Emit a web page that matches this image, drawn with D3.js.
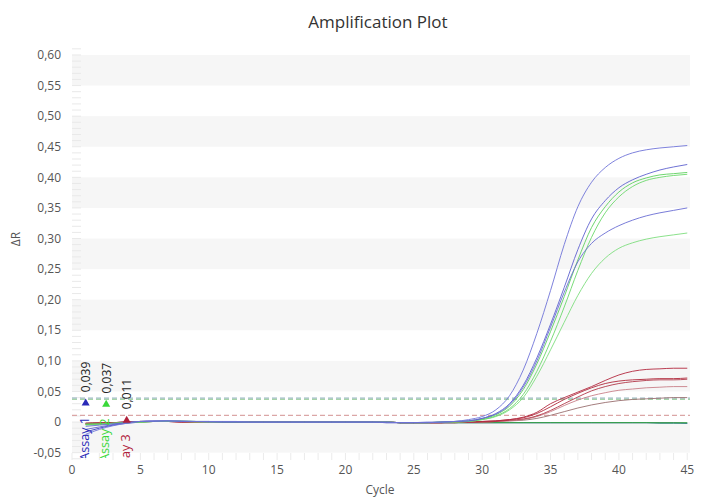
<!DOCTYPE html>
<html><head><meta charset="utf-8">
<script src="https://cdn.jsdelivr.net/npm/d3@7"></script>
<style>body{margin:0;background:#fff;} svg{display:block;font-family:"Open Sans","Noto Sans",sans-serif;}</style>
</head><body>
<svg id="c" width="703" height="499"></svg>
<script>
const cycles = [1,2,3,4,5,6,7,8,9,10,11,12,13,14,15,16,17,18,19,20,21,22,23,24,25,26,27,28,29,30,31,32,33,34,35,36,37,38,39,40,41,42,43,44,45];
const xTicks = [0,5,10,15,20,25,30,35,40,45];
const yTicks = [-0.05,0,0.05,0.10,0.15,0.20,0.25,0.30,0.35,0.40,0.45,0.50,0.55,0.60];
const yTickLabels = ["-0,05","0","0,05","0,10","0,15","0,20","0,25","0,30","0,35","0,40","0,45","0,50","0,55","0,60"];
const bandStarts = [-0.05,0.05,0.15,0.25,0.35,0.45,0.55];

const assayNames = ["Assay 1","Assay 2","Assay 3"];
const thresholds = [0.039,0.037,0.011];
const thresholdLabels = ["0,039","0,037","0,011"];
const markerCycles = [1,2.5,4];

// Assay 1 (blue)
const blue1 = [-0.020,-0.012,-0.006,-0.002,0.001,0.002,0.002,0.002,0.001,0.001,0.001,0.001,0.000,0.000,0.000,0.000,0.000,0.000,0.000,0.000,0.000,0.000,0.000,-0.001,-0.001,-0.001,0.000,0.001,0.004,0.009,0.020,0.043,0.085,0.145,0.215,0.290,0.352,0.392,0.416,0.431,0.440,0.445,0.448,0.450,0.452];
const blue2 = [-0.012,-0.008,-0.004,-0.001,0.001,0.002,0.002,0.001,0.001,0.001,0.000,0.000,0.000,0.000,0.000,0.000,0.000,0.000,0.000,0.000,0.000,0.000,-0.001,-0.001,-0.001,-0.001,0.000,0.001,0.002,0.006,0.014,0.030,0.060,0.105,0.160,0.220,0.282,0.332,0.362,0.383,0.396,0.405,0.412,0.417,0.421];
const blue3 = [-0.007,-0.005,-0.003,-0.001,0.001,0.001,0.002,0.001,0.001,0.000,0.000,0.000,0.000,0.000,0.000,0.000,0.000,0.000,0.000,0.000,0.000,0.000,0.000,-0.001,-0.001,0.000,0.000,0.001,0.002,0.006,0.013,0.028,0.057,0.100,0.155,0.212,0.262,0.292,0.309,0.321,0.330,0.337,0.342,0.346,0.350];
const blueFlat = [-0.016,-0.010,-0.005,-0.002,0.000,0.001,0.001,0.001,0.001,0.000,0.000,0.000,0.000,0.000,0.000,0.000,0.000,0.000,0.000,0.000,0.000,0.000,-0.001,-0.001,-0.001,-0.001,-0.001,-0.001,-0.001,-0.001,-0.001,-0.001,-0.001,-0.001,-0.001,-0.001,-0.001,-0.001,-0.001,-0.001,-0.001,-0.001,-0.001,-0.001,-0.002];
// Assay 2 (green)
const green1 = [-0.004,-0.003,-0.002,-0.001,0.000,0.001,0.002,0.002,0.001,0.001,0.000,0.000,0.000,0.000,0.000,0.000,0.000,0.000,0.000,0.000,0.000,0.000,0.000,-0.001,-0.001,-0.001,0.000,0.001,0.002,0.005,0.012,0.026,0.053,0.095,0.148,0.205,0.265,0.318,0.352,0.376,0.391,0.399,0.404,0.406,0.408];
const green2 = [-0.003,-0.003,-0.002,-0.001,0.000,0.001,0.001,0.001,0.001,0.000,0.000,0.000,0.000,0.000,0.000,0.000,0.000,0.000,0.000,0.000,0.000,0.000,0.000,-0.001,-0.001,-0.001,0.000,0.000,0.001,0.004,0.010,0.022,0.045,0.083,0.132,0.188,0.248,0.302,0.342,0.368,0.385,0.395,0.400,0.403,0.405];
const green3 = [-0.005,-0.004,-0.002,-0.001,0.000,0.001,0.001,0.001,0.000,0.000,0.000,0.000,0.000,0.000,0.000,0.000,0.000,0.000,0.000,0.000,0.000,0.000,0.000,-0.001,-0.001,-0.001,0.000,0.000,0.001,0.004,0.009,0.020,0.040,0.075,0.118,0.163,0.207,0.243,0.268,0.284,0.293,0.299,0.303,0.306,0.309];
const greenFlat = [-0.004,-0.003,-0.002,-0.001,0.000,0.001,0.001,0.001,0.000,0.000,0.000,0.000,0.000,0.000,0.000,0.000,0.000,0.000,0.000,0.000,0.000,0.000,0.000,-0.001,-0.001,-0.001,-0.001,-0.001,-0.001,-0.001,-0.001,-0.001,-0.001,-0.001,-0.001,-0.001,-0.001,-0.001,-0.001,-0.001,-0.001,-0.001,-0.001,-0.001,-0.001];
const tealFlat = [-0.003,-0.002,-0.001,0.000,0.001,0.001,0.001,0.001,0.000,0.000,0.000,0.000,0.000,0.000,0.000,0.000,0.000,0.000,0.000,0.000,0.000,0.000,0.000,-0.001,-0.001,-0.001,-0.001,-0.001,-0.001,-0.001,-0.001,-0.001,-0.001,-0.001,-0.001,-0.001,-0.001,-0.001,-0.001,-0.001,-0.001,-0.001,-0.002,-0.002,-0.002];
// Assay 3 (red)
const red1 = [-0.003,-0.002,-0.001,0.000,0.001,0.001,0.001,0.001,0.000,0.000,0.000,0.000,0.000,0.000,0.000,0.000,0.000,0.000,0.000,0.000,0.000,0.000,0.000,-0.001,-0.001,-0.001,-0.001,0.000,0.000,0.001,0.002,0.004,0.008,0.016,0.030,0.040,0.049,0.058,0.068,0.077,0.083,0.086,0.087,0.088,0.088];
const red2 = [-0.002,-0.002,-0.001,0.000,0.001,0.001,0.001,0.000,0.000,0.000,0.000,0.000,0.000,0.000,0.000,0.000,0.000,0.000,0.000,0.000,0.000,0.000,0.000,-0.001,-0.001,-0.001,-0.001,0.000,0.000,0.001,0.002,0.004,0.007,0.014,0.025,0.037,0.047,0.056,0.063,0.067,0.069,0.070,0.071,0.071,0.072];
const red3 = [-0.002,-0.001,-0.001,0.000,0.001,0.001,0.001,0.000,0.000,0.000,0.000,0.000,0.000,0.000,0.000,0.000,0.000,0.000,0.000,0.000,0.000,0.000,0.000,-0.001,-0.001,-0.001,-0.001,-0.001,0.000,0.000,0.001,0.003,0.005,0.010,0.019,0.030,0.041,0.051,0.058,0.063,0.066,0.068,0.069,0.069,0.070];
const red4 = [-0.003,-0.002,-0.001,0.000,0.000,0.001,0.001,0.000,0.000,0.000,0.000,0.000,0.000,0.000,0.000,0.000,0.000,0.000,0.000,0.000,0.000,0.000,0.000,-0.001,-0.001,-0.001,-0.001,-0.001,0.000,0.000,0.001,0.002,0.004,0.009,0.017,0.027,0.036,0.043,0.048,0.052,0.054,0.056,0.057,0.058,0.058];
const brown1 = [-0.002,-0.001,-0.001,0.000,0.000,0.001,0.001,0.000,0.000,0.000,0.000,0.000,0.000,0.000,0.000,0.000,0.000,0.000,0.000,0.000,0.000,0.000,0.000,-0.001,-0.001,-0.001,-0.001,-0.001,0.000,0.000,0.001,0.002,0.003,0.006,0.011,0.017,0.023,0.028,0.032,0.035,0.037,0.038,0.039,0.040,0.040];

const series = [
  {v: blueFlat, c: "#3a3fc0"},
  {v: tealFlat, c: "#2a8a7a"},
  {v: greenFlat, c: "#3aa83a"},
  {v: brown1, c: "#9a7070"},
  {v: red4, c: "#c98088"},
  {v: red3, c: "#b23a4a"},
  {v: red2, c: "#b02a3c"},
  {v: red1, c: "#b42a40"},
  {v: green3, c: "#7ede7e"},
  {v: green2, c: "#6cd86c"},
  {v: green1, c: "#5fd05f"},
  {v: blue3, c: "#6a6ed4"},
  {v: blue2, c: "#5f63cf"},
  {v: blue1, c: "#7074d8"}
];
const assayColors = ["#2a2ab8","#3ad83a","#b0203a"];
const thresholdColors = ["#9ab8c4","#a6d4a8","#dba6a6"];

const svg = d3.select("#c");
const L = 72, R = 690, T = 45.8, B = 460;
const x = d3.scaleLinear().domain([0,45.2]).range([L,R]);
const y = d3.scaleLinear().domain([-0.062,0.615]).range([B,T]);

svg.append("defs").append("clipPath").attr("id","clip")
  .append("rect").attr("x",L).attr("y",T).attr("width",R-L).attr("height",B-2-T);

// bands
svg.append("g").selectAll("rect").data(bandStarts).join("rect")
  .attr("x",L).attr("width",R-L)
  .attr("y",d=>y(d+0.05)).attr("height",d=>y(d)-y(d+0.05))
  .attr("fill","#f6f6f6");

// minor ticks
const minorY = d3.range(-0.06,0.611,0.01);
svg.append("g").selectAll("line").data(minorY).join("line")
  .attr("x1",L).attr("x2",L+9).attr("y1",d=>y(d)).attr("y2",d=>y(d))
  .attr("stroke","#e9e9e9");
svg.append("g").selectAll("line").data(d3.range(0,46,1)).join("line")
  .attr("x1",d=>x(d)).attr("x2",d=>x(d)).attr("y1",B).attr("y2",B-7)
  .attr("stroke","#ebebeb");

// axes labels
svg.append("g").selectAll("text").data(yTicks).join("text")
  .attr("x",61).attr("y",d=>y(d)).attr("dy","0.35em").attr("text-anchor","end")
  .attr("font-size",12).attr("fill","#555").text((d,i)=>yTickLabels[i]);
svg.append("g").selectAll("text").data(xTicks).join("text")
  .attr("x",d=>x(d)).attr("y",474).attr("text-anchor","middle")
  .attr("font-size",12).attr("fill","#555").text(d=>d);

svg.append("text").attr("x",378).attr("y",28).attr("text-anchor","middle")
  .attr("font-size",17).attr("fill","#333").text("Amplification Plot");
svg.append("text").attr("transform","translate(20,239) rotate(-90)").attr("text-anchor","middle")
  .attr("font-size",12).attr("fill","#555").text("ΔR");
svg.append("text").attr("x",380).attr("y",494).attr("text-anchor","middle")
  .attr("font-size",12).attr("fill","#555").text("Cycle");

const g = svg.append("g").attr("clip-path","url(#clip)");

// thresholds
g.selectAll("line.th").data(thresholds).join("line").attr("class","th")
  .attr("x1",L).attr("x2",R).attr("y1",d=>y(d)).attr("y2",d=>y(d))
  .attr("stroke",(d,i)=>thresholdColors[i]).attr("stroke-width",1.3)
  .attr("stroke-dasharray","5,3");

// curves
const line = d3.line().x((d,i)=>x(cycles[i])).y(d=>y(d)).curve(d3.curveMonotoneX);
g.selectAll("path.s").data(series).join("path").attr("class","s")
  .attr("d",d=>line(d.v)).attr("fill","none").attr("stroke",d=>d.c)
  .attr("stroke-width",1).attr("stroke-opacity",0.9);

// markers, labels
const tri = d3.symbol().type(d3.symbolTriangle).size(28);
g.selectAll("path.m").data(thresholds).join("path").attr("class","m")
  .attr("d",tri).attr("transform",(d,i)=>`translate(${x(markerCycles[i])},${y(d)+5})`)
  .attr("fill",(d,i)=>assayColors[i]);
g.selectAll("text.tl").data(thresholds).join("text").attr("class","tl")
  .attr("transform",(d,i)=>`translate(${x(markerCycles[i])+4.5},${y(d)-6}) rotate(-90)`)
  .attr("font-size",12).attr("fill","#222").text((d,i)=>thresholdLabels[i]);
g.selectAll("text.al").data(thresholds).join("text").attr("class","al")
  .attr("transform",(d,i)=>`translate(${x(markerCycles[i])+3},${y(d)+19}) rotate(-90)`)
  .attr("text-anchor","end").attr("font-size",12.5)
  .attr("fill",(d,i)=>assayColors[i]).text((d,i)=>assayNames[i]);
</script>
</body></html>
